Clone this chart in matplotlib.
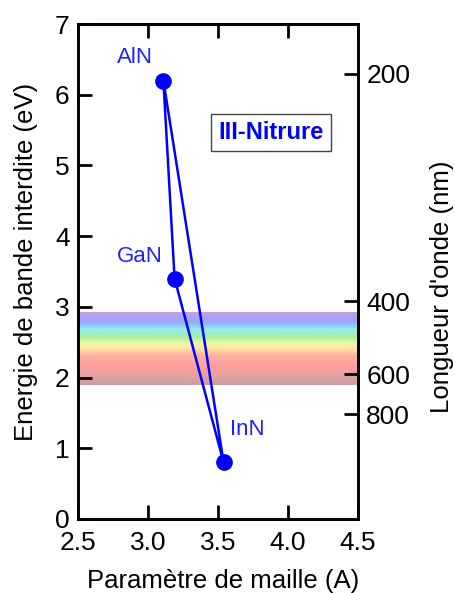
import numpy as np
import matplotlib.pyplot as plt
from matplotlib.colors import LinearSegmentedColormap

plt.rcParams["font.family"] = ["Liberation Sans", "DejaVu Sans"]

materials = ["AlN", "GaN", "InN"]
lattice = [3.11, 3.19, 3.54]
gap = [6.2, 3.4, 0.8]
label_pos = [(2.91, 6.53), (2.94, 3.71), (3.71, 1.26)]

wavelength_labels = ["200", "400", "600", "800"]
wavelength_energy = [6.3, 3.08, 2.05, 1.48]

band_low, band_high = 1.9, 2.93
band_stops = [0, 0.135, 0.27, 0.405, 0.49, 0.57, 0.66, 0.76, 0.85, 0.92, 1]
band_colors = ["#c8a0a0", "#e8a0a0", "#ffa0a0", "#ffb0a0", "#ffe0a0", "#f0f8a0",
               "#a8f0a0", "#90f0f0", "#98b0ff", "#a8a0f8", "#c8a0e0"]

fig = plt.figure(figsize=(4.55, 5.93), dpi=100)
ax = fig.add_axes([0.1714, 0.1248, 0.6154, 0.8347])

cmap = LinearSegmentedColormap.from_list("rainbow_band", list(zip(band_stops, band_colors)))
grad = np.linspace(0, 1, 256).reshape(-1, 1)
ax.imshow(grad, cmap=cmap, aspect="auto", origin="lower",
          extent=[2.5, 4.5, band_low, band_high], zorder=0)

order = [0, 1, 2, 0]
ax.plot([lattice[i] for i in order], [gap[i] for i in order],
        color="#0000ff", lw=1.8, zorder=2)
ax.plot(lattice, gap, "o", color="#0000ff", ms=11, zorder=3)
for name, (lx, ly) in zip(materials, label_pos):
    ax.text(lx, ly, name, color="#2020ff", fontsize=16, ha="center", va="center")

ax.text(3.88, 5.46, "III-Nitrure", color="#0000ff", fontsize=17, fontweight="bold",
        ha="center", va="center",
        bbox=dict(boxstyle="square,pad=0.3", fc="white", ec="#444444", lw=1))

ax.set_xlim(2.5, 4.5)
ax.set_ylim(0, 7)
ax.set_xticks([2.5, 3.0, 3.5, 4.0, 4.5])
ax.set_xticklabels(["2.5", "3.0", "3.5", "4.0", "4.5"])
ax.set_yticks(range(8))
ax.tick_params(direction="in", length=10, width=2, labelsize=19, pad=6,
               top=True, right=False)
ax.tick_params(axis="x", pad=9)
for s in ax.spines.values():
    s.set_linewidth(2)
ax.set_xlabel("Paramètre de maille (A)", fontsize=18.5, va="center")
ax.set_ylabel("Energie de bande interdite (eV)", fontsize=18.5, va="center")
ax.xaxis.set_label_coords(0.52, -0.125)
ax.yaxis.set_label_coords(-0.186, 0.52)

ax2 = ax.twinx()
ax2.set_ylim(0, 7)
ax2.set_yticks(wavelength_energy)
ax2.set_yticklabels(wavelength_labels)
ax2.tick_params(direction="in", length=10, width=2, labelsize=19, pad=6)
for s in ax2.spines.values():
    s.set_linewidth(2)
ax2.set_ylabel("Longueur d'onde (nm)", fontsize=18.5, va="center")
ax2.yaxis.set_label_coords(1.3, 0.47)

fig.savefig("out.png", dpi=100)
